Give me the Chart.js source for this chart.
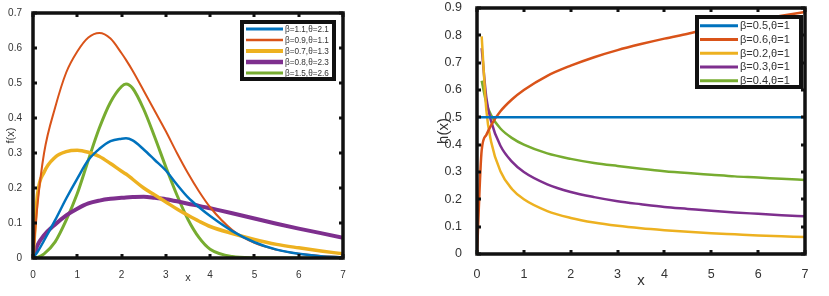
<!DOCTYPE html>
<html><head><meta charset="utf-8">
<script src="https://cdn.jsdelivr.net/npm/chart.js@4.4.1/dist/chart.umd.min.js"></script>
<style>
html,body{margin:0;padding:0;background:#fff;width:829px;height:296px;overflow:hidden}
.w{position:absolute;top:0}
#w1{left:0;width:360px;height:296px}
#w2{left:415px;width:414px;height:296px}
</style></head><body>
<div class="w" id="w1"><canvas id="c1" width="360" height="296"></canvas></div>
<div class="w" id="w2"><canvas id="c2" width="414" height="296"></canvas></div>
<script>
// ---------- Left chart: f(x) ----------
const fX      = [0, 0.1, 0.25, 0.5, 0.75, 1, 1.25, 1.5, 1.75, 2, 2.1, 2.25, 2.5, 2.75, 3, 3.25, 3.5, 3.75, 4, 4.5, 5, 5.5, 6, 6.5, 7];
const fBlue   = [0, 0.017, 0.05, 0.108, 0.17, 0.227, 0.28, 0.312, 0.334, 0.341, 0.342, 0.336, 0.31, 0.28, 0.25, 0.21, 0.173, 0.145, 0.12, 0.077, 0.045, 0.024, 0.012, 0.005, 0.002];
const fRed    = [0, 0.15, 0.30, 0.43, 0.53, 0.59, 0.63, 0.643, 0.627, 0.585, 0.566, 0.535, 0.478, 0.42, 0.362, 0.30, 0.242, 0.19, 0.145, 0.08, 0.043, 0.024, 0.012, 0.006, 0.003];
const fYellow = [0, 0.18, 0.245, 0.288, 0.304, 0.308, 0.302, 0.29, 0.27, 0.248, 0.24, 0.225, 0.20, 0.18, 0.16, 0.14, 0.122, 0.105, 0.09, 0.07, 0.053, 0.039, 0.029, 0.02, 0.012];
const fPurple = [0, 0.036, 0.065, 0.096, 0.122, 0.141, 0.156, 0.164, 0.169, 0.172, 0.173, 0.174, 0.175, 0.172, 0.168, 0.162, 0.155, 0.149, 0.142, 0.128, 0.113, 0.098, 0.084, 0.071, 0.058];
const fGreen  = [0, 0.002, 0.012, 0.046, 0.108, 0.184, 0.28, 0.372, 0.445, 0.49, 0.497, 0.485, 0.425, 0.345, 0.26, 0.18, 0.11, 0.058, 0.025, 0.004, 0.0005, 0, 0, 0, 0];
const fLabels = ['β=1.1,θ=2.1', 'β=0.9,θ=1.1', 'β=0.7,θ=1.3', 'β=0.8,θ=2.3', 'β=1.5,θ=2.6'];
const fXTicks = [0, 1, 2, 3, 4, 5, 6, 7];
const fYTicks = [0, 0.1, 0.2, 0.3, 0.4, 0.5, 0.6, 0.7];

// ---------- Right chart: h(x) ----------
const hX      = [0, 0.1, 0.2, 0.3, 0.5, 0.75, 1, 1.5, 2, 2.5, 3, 3.5, 4, 4.5, 5, 5.5, 6, 6.5, 7];
const hBlue   = [0.5, 0.5, 0.5, 0.5, 0.5, 0.5, 0.5, 0.5, 0.5, 0.5, 0.5, 0.5, 0.5, 0.5, 0.5, 0.5, 0.5, 0.5, 0.5];
const hRed    = [0, 0.38, 0.436, 0.471, 0.522, 0.566, 0.60, 0.652, 0.689, 0.72, 0.746, 0.768, 0.788, 0.806, 0.826, 0.842, 0.858, 0.872, 0.885];
const hYellow = [null, 0.796, 0.525, 0.412, 0.303, 0.237, 0.20, 0.157, 0.132, 0.115, 0.103, 0.094, 0.087, 0.081, 0.076, 0.072, 0.068, 0.065, 0.062];
const hPurple = [null, 0.753, 0.571, 0.486, 0.396, 0.337, 0.30, 0.255, 0.227, 0.208, 0.193, 0.182, 0.172, 0.165, 0.158, 0.152, 0.147, 0.142, 0.138];
const hGreen  = [null, 0.634, 0.552, 0.508, 0.459, 0.424, 0.40, 0.368, 0.348, 0.333, 0.322, 0.312, 0.303, 0.296, 0.29, 0.284, 0.28, 0.275, 0.271];
const hLabels = ['β=0.5,θ=1', 'β=0.6,θ=1', 'β=0.2,θ=1', 'β=0.3,θ=1', 'β=0.4,θ=1'];
const hXTicks = [0, 1, 2, 3, 4, 5, 6, 7];
const hYTicks = [0, 0.1, 0.2, 0.3, 0.4, 0.5, 0.6, 0.7, 0.8, 0.9];

const COLORS = ['#0072BD', '#D95319', '#EDB120', '#7E2F8E', '#77AC30'];
const FONT = '"Liberation Sans", Arial, sans-serif';
const TXT = '#333';

const pts = (xs, ys) => xs.map((x, i) => ({x: x, y: ys[i]}));

const matlabFrame = {
  id: 'matlabFrame',
  afterDatasetsDraw(chart, args, o) {
    const {ctx, chartArea: a, scales} = chart;
    ctx.save();
    ctx.strokeStyle = '#111';
    ctx.lineWidth = o.tickW;
    ctx.beginPath();
    scales.x.ticks.forEach(t => {
      const p = Math.round(scales.x.getPixelForValue(t.value));
      ctx.moveTo(p, a.bottom); ctx.lineTo(p, a.bottom - o.tickL);
      ctx.moveTo(p, a.top); ctx.lineTo(p, a.top + o.tickL);
    });
    scales.y.ticks.forEach(t => {
      const p = Math.round(scales.y.getPixelForValue(t.value));
      ctx.moveTo(a.left, p); ctx.lineTo(a.left + o.tickL, p);
      ctx.moveTo(a.right, p); ctx.lineTo(a.right - o.tickL, p);
    });
    ctx.stroke();
    ctx.lineWidth = o.boxW;
    ctx.strokeRect(a.left, a.top, a.right - a.left, a.bottom - a.top);
    // legend box
    const L = o.legend;
    const lx = a.right - L.rightGap - L.w, ly = a.top + L.topGap;
    ctx.fillStyle = '#fff';
    ctx.fillRect(lx, ly, L.w, L.h);
    ctx.lineWidth = L.border;
    ctx.strokeStyle = '#111';
    ctx.strokeRect(lx + L.border / 2, ly + L.border / 2, L.w - L.border, L.h - L.border);
    ctx.font = L.font + 'px ' + FONT;
    ctx.textBaseline = 'middle';
    ctx.textAlign = 'left';
    chart.data.datasets.forEach((ds, i) => {
      const y = ly + L.first + i * L.step;
      ctx.strokeStyle = ds.borderColor;
      ctx.lineWidth = L.lw[i];
      ctx.beginPath();
      ctx.moveTo(lx + L.lineX0, y); ctx.lineTo(lx + L.lineX1, y);
      ctx.stroke();
      ctx.fillStyle = TXT;
      ctx.fillText(ds.label, lx + L.textX, y + 0.5);
    });
    ctx.restore();
  }
};

function makeChart(id, cfg) {
  const datasets = cfg.series.map((ys, i) => ({
    label: cfg.labels[i],
    data: pts(cfg.xs, ys),
    borderColor: COLORS[i],
    backgroundColor: COLORS[i],
    borderWidth: cfg.widths[i],
    pointRadius: 0,
    fill: false,
    cubicInterpolationMode: 'monotone',
    spanGaps: false
  }));
  const zeroPad = s => { s.paddingTop = 0; s.paddingBottom = 0; s.paddingLeft = 0; s.paddingRight = 0; };
  return new Chart(document.getElementById(id), {
    type: 'line',
    data: {datasets},
    plugins: [matlabFrame],
    options: {
      responsive: false,
      animation: false,
      devicePixelRatio: 1,
      layout: {padding: cfg.padding},
      plugins: {
        legend: {display: false},
        tooltip: {enabled: false},
        matlabFrame: cfg.frame
      },
      scales: {
        x: {
          type: 'linear', min: 0, max: 7,
          afterBuildTicks: s => { s.ticks = cfg.xTicks.map(v => ({value: v})); },
          afterFit: s => { s.height = cfg.xH; zeroPad(s); },
          grid: {display: false}, border: {display: false},
          ticks: {font: {family: FONT, size: cfg.tickSize}, color: TXT, padding: cfg.xPad, maxRotation: 0, autoSkip: false,
                  callback: v => String(+(+v).toFixed(1))},
          title: {display: true, text: 'x', font: {family: FONT, size: cfg.titleSize}, color: TXT, padding: cfg.xTitlePad}
        },
        y: {
          type: 'linear', min: 0, max: cfg.yMax,
          afterBuildTicks: s => { s.ticks = cfg.yTicks.map(v => ({value: v})); },
          afterFit: s => { s.width = cfg.yW; zeroPad(s); },
          grid: {display: false}, border: {display: false},
          ticks: {font: {family: FONT, size: cfg.tickSize}, color: TXT, padding: cfg.yPad, autoSkip: false,
                  callback: v => String(+(+v).toFixed(1))},
          title: {display: true, text: cfg.yTitle, font: {family: FONT, size: cfg.titleSize}, color: TXT, padding: cfg.yTitlePad}
        }
      }
    }
  });
}

makeChart('c1', {
  xs: fX, series: [fBlue, fRed, fYellow, fPurple, fGreen], labels: fLabels,
  widths: [2.5, 2, 3.5, 4, 3],
  xTicks: fXTicks, yTicks: fYTicks, yMax: 0.7, yTitle: 'f(x)',
  padding: {left: 0, right: 17, top: 13, bottom: 0},
  xH: 38, yW: 33, tickSize: 10, titleSize: 11,
  xPad: 3, yPad: 3, xTitlePad: {top: 0, bottom: 11}, yTitlePad: {top: 4, bottom: 0},
  frame: {boxW: 3.5, tickW: 3, tickL: 4,
    legend: {w: 96, h: 61, rightGap: 7, topGap: 7, border: 4, font: 8.2, first: 9, step: 11, lineX0: 6, lineX1: 43, textX: 45,
             lw: [3, 2.5, 4, 4.5, 3]}}
});

makeChart('c2', {
  xs: hX, series: [hBlue, hRed, hYellow, hPurple, hGreen], labels: hLabels,
  widths: [2.5, 2.5, 2.5, 2.5, 2.5],
  xTicks: hXTicks, yTicks: hYTicks, yMax: 0.9, yTitle: 'h(x)',
  padding: {left: 0, right: 24, top: 8, bottom: 0},
  xH: 42, yW: 62, tickSize: 12.5, titleSize: 15,
  xPad: 5, yPad: 7, xTitlePad: {top: 0, bottom: 6}, yTitlePad: {top: 20, bottom: 0},
  frame: {boxW: 3.5, tickW: 3, tickL: 4,
    legend: {w: 108, h: 74, rightGap: 2, topGap: 7, border: 4, font: 11, first: 10.7, step: 13.75, lineX0: 5, lineX1: 43, textX: 45,
             lw: [3, 3, 3, 3, 3]}}
});
</script>
</body></html>
